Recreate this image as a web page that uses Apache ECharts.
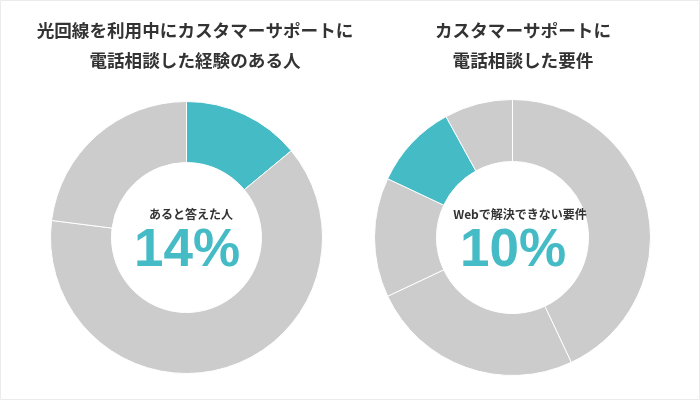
<!DOCTYPE html>
<html>
<head>
<meta charset="utf-8">
<script src="https://cdn.jsdelivr.net/npm/echarts@6/dist/echarts.min.js"></script>
<style>
html,body{margin:0;padding:0;background:#fff;}
#c{width:700px;height:400px;}
</style>
</head>
<body>
<div id="c"></div>
<script>
// Data
var leftTitle = '光回線を利用中にカスタマーサポートに\n電話相談した経験のある人';
var rightTitle = 'カスタマーサポートに\n電話相談した要件';
var leftNames = ['ある', 'その他A', 'その他B'];
var leftValues = [14, 63, 23];
var rightNames = ['要件A', '要件B', '要件C', 'Webで解決できない要件', '要件E'];
var rightValues = [43, 25, 14, 10, 8];
var leftCaption = 'あると答えた人';
var leftPercent = '14%';
var rightCaption = 'Webで解決できない要件';
var rightPercent = '10%';
var leftHighlight = 0;
var rightHighlight = 3;

var TEAL = '#45bbc6';
var GRAY = '#cccccc';
var JP = '"Noto Sans CJK JP", "Noto Sans", sans-serif';
var NUM = '"Liberation Sans", Arial, sans-serif';

function buildData(names, values, hi) {
  return values.map(function (v, i) {
    return { name: names[i], value: v, itemStyle: { color: i === hi ? TEAL : GRAY } };
  });
}

function pie(center, r, data) {
  return {
    type: 'pie',
    center: center,
    radius: r,
    startAngle: 90,
    clockwise: true,
    silent: true,
    label: { show: false },
    labelLine: { show: false },
    itemStyle: { borderColor: '#ffffff', borderWidth: 1 },
    data: data
  };
}

var chart = echarts.init(document.getElementById('c'));
chart.setOption({
  animation: false,
  backgroundColor: '#ffffff',
  title: [
    { text: leftTitle, left: 190, top: 10, textAlign: 'center',
      textStyle: { fontFamily: JP, fontSize: 17.6, fontWeight: 'bold', color: '#333333', lineHeight: 30 } },
    { text: rightTitle, left: 518, top: 10, textAlign: 'center',
      textStyle: { fontFamily: JP, fontSize: 17.6, fontWeight: 'bold', color: '#333333', lineHeight: 30 } },
    { text: leftCaption, left: 186, top: 203, textAlign: 'center',
      textStyle: { fontFamily: JP, fontSize: 12, fontWeight: 'bold', color: '#333333' } },
    { text: leftPercent, left: 182, top: 220, textAlign: 'center',
      textStyle: { fontFamily: NUM, fontSize: 53, fontWeight: 'bold', color: TEAL } },
    { text: rightCaption, left: 515, top: 203, textAlign: 'center',
      textStyle: { fontFamily: JP, fontSize: 12, fontWeight: 'bold', color: '#333333' } },
    { text: rightPercent, left: 508, top: 220, textAlign: 'center',
      textStyle: { fontFamily: NUM, fontSize: 53, fontWeight: 'bold', color: TEAL } }
  ],
  graphic: [
    { type: 'rect', shape: { x: 0.5, y: 0.5, width: 699, height: 399 },
      style: { fill: 'none', stroke: '#ebebeb', lineWidth: 1 }, silent: true, z: -1 }
  ],
  series: [
    pie([186.5, 237.5], [75, 136], buildData(leftNames, leftValues, leftHighlight)),
    pie([512.5, 237.5], [76, 138], buildData(rightNames, rightValues, rightHighlight))
  ]
});
</script>
</body>
</html>
